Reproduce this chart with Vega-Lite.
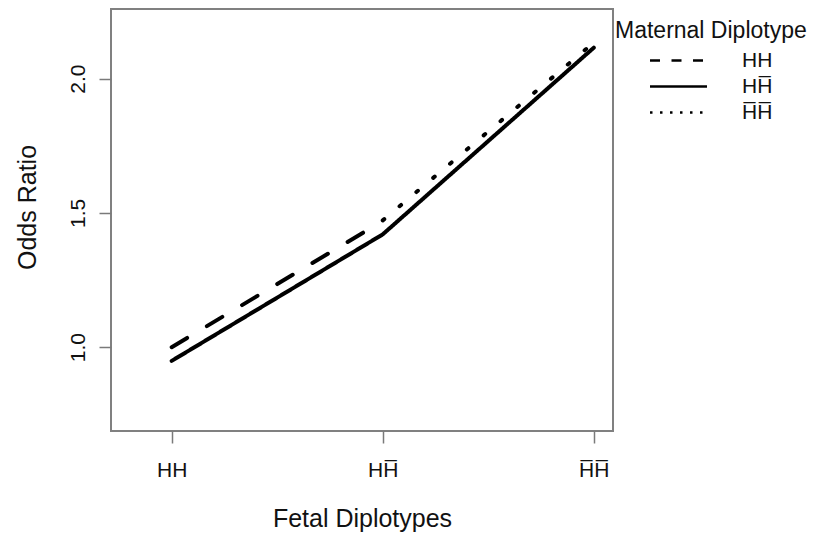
{
  "$schema": "https://vega.github.io/schema/vega-lite/v6.json",
  "width": 502,
  "height": 422,
  "autosize": "none",
  "padding": {"left": 111, "top": 9, "right": 201, "bottom": 107},
  "background": "white",
  "config": {
    "font": "Liberation Sans",
    "view": {"stroke": "#808080", "strokeWidth": 2}
  },
  "data": {
    "values": [
      {"fetal": 0, "maternal": "HH", "odds": 1.0},
      {"fetal": 1, "maternal": "HH", "odds": 1.47},
      {"fetal": 0, "maternal": "HH̅", "odds": 0.949},
      {"fetal": 1, "maternal": "HH̅", "odds": 1.42},
      {"fetal": 2, "maternal": "HH̅", "odds": 2.115},
      {"fetal": 1, "maternal": "H̅H̅", "odds": 1.472},
      {"fetal": 2, "maternal": "H̅H̅", "odds": 2.134}
    ]
  },
  "encoding": {
    "x": {
      "field": "fetal",
      "type": "quantitative",
      "scale": {"domain": [-0.2875, 2.091], "nice": false, "zero": false},
      "axis": {
        "title": "Fetal Diplotypes",
        "values": [0, 1, 2],
        "labelExpr": "datum.value == 0 ? 'HH' : datum.value == 1 ? 'HH̅' : 'H̅H̅'",
        "domain": false,
        "grid": false,
        "ticks": true,
        "tickSize": 12,
        "tickColor": "#7a7a7a",
        "tickWidth": 1.5,
        "labelFontSize": 21,
        "labelColor": "#111",
        "labelBaseline": "alphabetic",
        "labelPadding": 33,
        "labelFlush": false,
        "labelOverlap": false,
        "titleFontSize": 25,
        "titleFontWeight": "normal",
        "titleColor": "#111",
        "titleBaseline": "alphabetic",
        "titleY": 95
      }
    },
    "y": {
      "field": "odds",
      "type": "quantitative",
      "scale": {"domain": [0.688, 2.259], "nice": false, "zero": false},
      "axis": {
        "title": "Odds Ratio",
        "values": [1, 1.5, 2],
        "format": ".1f",
        "domain": false,
        "grid": false,
        "ticks": true,
        "tickSize": 12,
        "tickColor": "#7a7a7a",
        "tickWidth": 1.5,
        "labelFontSize": 21,
        "labelColor": "#111",
        "labelAngle": 270,
        "labelAlign": "center",
        "labelBaseline": "alphabetic",
        "labelPadding": 15,
        "labelOverlap": false,
        "titleFontSize": 25,
        "titleFontWeight": "normal",
        "titleColor": "#111",
        "titleAngle": 270,
        "titleAlign": "center",
        "titleBaseline": "alphabetic",
        "titleX": -76,
        "titleY": 198
      }
    }
  },
  "layer": [
    {
      "mark": {"type": "line", "strokeWidth": 4, "color": "black", "strokeCap": "round"},
      "encoding": {
        "strokeDash": {
          "field": "maternal",
          "type": "nominal",
          "scale": {
            "domain": ["HH", "HH̅", "H̅H̅"],
            "range": [[18, 23], [1, 0], [2, 20]]
          },
          "legend": null
        }
      }
    },
    {
      "transform": [{"filter": "datum.odds < 0"}],
      "mark": {"type": "line", "strokeWidth": 4, "color": "black", "strokeCap": "butt"},
      "encoding": {
        "strokeDash": {
          "field": "maternal",
          "type": "nominal",
          "scale": {
            "domain": ["HH", "HH̅", "H̅H̅"],
            "range": [[10, 11.5], [1, 0], [2.5, 7.5]]
          },
          "legend": {
            "orient": "none",
            "legendX": 504,
            "legendY": 11,
            "title": "Maternal Diplotype",
            "titleFontSize": 23,
            "titleFontWeight": "normal",
            "titleColor": "#111",
            "titleLimit": 400,
            "titlePadding": 2,
            "labelFontSize": 21,
            "labelColor": "#111",
            "symbolType": "M-2,0H2",
            "symbolSize": 812,
            "symbolStrokeWidth": 2.5,
            "symbolStrokeColor": "black",
            "symbolOffset": 48,
            "labelOffset": 48,
            "rowPadding": 0,
            "padding": 0
          }
        }
      }
    }
  ],
  "resolve": {"scale": {"strokeDash": "independent"}}
}
